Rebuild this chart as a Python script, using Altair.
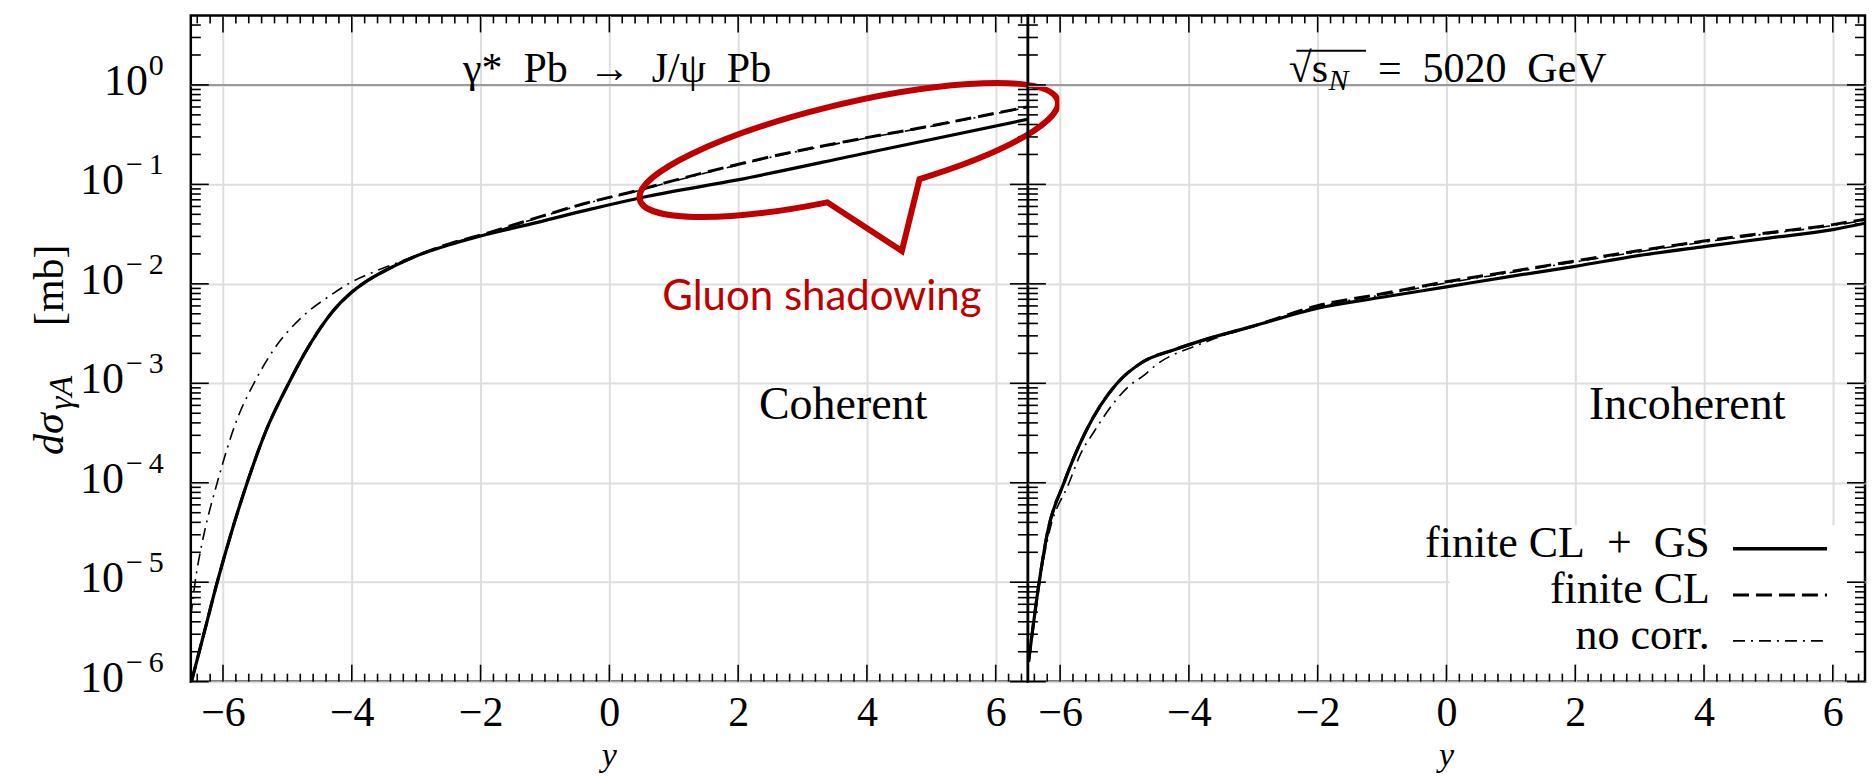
import altair as alt
import pandas as pd

# ---------------- data ----------------
# Coherent panel
coh_gs_x = [-6.49, -6.29, -6.09, -5.87, -5.625, -5.34, -4.98, -4.75, -4.54, -4.3, -4.03, -3.75, -3.4, -3.0,
            -2.5, -2.07, -1.2, -0.32, 0.6, 1.99, 3.99, 6.5]
coh_gs_y = [1.0e-6, 3.16e-6, 1.0e-5, 3.16e-5, 1.0e-4, 3.24e-4, 1.0e-3, 1.91e-3, 3.20e-3, 5.25e-3, 7.94e-3,
            1.084e-2, 1.445e-2, 1.905e-2, 2.455e-2, 2.95e-2, 4.03e-2, 5.57e-2, 7.59e-2, 0.111, 0.207, 0.452]

coh_cl_x = [-6.49, -6.29, -6.09, -5.87, -5.625, -5.34, -4.98, -4.75, -4.54, -4.3, -4.03, -3.75, -3.4, -3.0,
            -2.5, -2.0, -1.2, -0.4, 0.5, 0.86, 1.8, 2.66, 3.7, 4.72, 5.6, 6.5]
coh_cl_y = [1.0e-6, 3.16e-6, 1.0e-5, 3.16e-5, 1.0e-4, 3.24e-4, 1.0e-3, 1.91e-3, 3.20e-3, 5.25e-3, 7.94e-3,
            1.084e-2, 1.445e-2, 1.905e-2, 2.51e-2, 3.09e-2, 4.47e-2, 6.38e-2, 8.91e-2, 0.1035, 0.148, 0.1995,
            0.272, 0.359, 0.462, 0.603]

coh_nc_x = [-6.5, -6.41, -6.36, -6.29, -6.09, -5.78, -5.52, -5.21, -4.75, -4.34, -4.03, -3.62, -3.26, -3.0,
            -2.5, -2.0, -1.2, -0.4, 0.5, 0.86, 1.8, 2.66, 3.7, 4.72, 5.6, 6.5]
coh_nc_y = [4.47e-6, 1.26e-5, 1.91e-5, 3.16e-5, 1.0e-4, 4.37e-4, 1.0e-3, 2.19e-3, 4.79e-3, 7.59e-3, 1.02e-2,
            1.35e-2, 1.66e-2, 1.93e-2, 2.51e-2, 3.05e-2, 4.42e-2, 6.31e-2, 8.81e-2, 0.102, 0.146, 0.197,
            0.269, 0.355, 0.457, 0.596]

# Incoherent panel
inc_gs_x = [-6.49, -6.325, -6.196, -5.94, -5.605, -5.115, -4.73, -4.215, -3.75, -3.0, -2.0, -1.0, 0.0,
            1.0, 2.0, 3.0, 4.0, 5.0, 6.0, 6.5]
inc_gs_y = [1.58e-6, 1.0e-5, 3.16e-5, 1.0e-4, 3.24e-4, 1.0e-3, 1.62e-3, 2.19e-3, 2.75e-3, 3.76e-3, 5.69e-3,
            7.33e-3, 9.33e-3, 1.19e-2, 1.50e-2, 1.93e-2, 2.37e-2, 2.88e-2, 3.51e-2, 4.07e-2]

inc_cl_x = [-6.49, -6.325, -6.196, -5.94, -5.605, -5.115, -4.73, -4.215, -3.75, -3.0, -2.0, -1.0, 0.0,
            1.0, 2.0, 3.0, 4.0, 5.0, 6.0, 6.5]
inc_cl_y = [1.58e-6, 1.0e-5, 3.16e-5, 1.0e-4, 3.24e-4, 1.0e-3, 1.62e-3, 2.19e-3, 2.75e-3, 3.76e-3, 6.03e-3,
            7.94e-3, 1.05e-2, 1.33e-2, 1.70e-2, 2.16e-2, 2.69e-2, 3.27e-2, 3.94e-2, 4.47e-2]

inc_nc_x = [-6.49, -6.32, -6.17, -5.86, -5.682, -5.476, -5.141, -4.935, -4.678, -4.498, -4.164, -3.958,
            -3.6, -3.0, -2.0, -1.0, 0.0, 1.0, 2.0, 3.0, 4.0, 5.0, 6.0, 6.5]
inc_nc_y = [1.58e-6, 1.0e-5, 3.16e-5, 1.0e-4, 1.95e-4, 3.24e-4, 6.67e-4, 9.29e-4, 1.23e-3, 1.55e-3, 2.04e-3,
            2.29e-3, 2.82e-3, 3.72e-3, 5.89e-3, 7.76e-3, 1.02e-2, 1.30e-2, 1.66e-2, 2.11e-2, 2.63e-2,
            3.20e-2, 3.85e-2, 4.37e-2]

# axis ticks / labels
x_major = [-6, -4, -2, 0, 2, 4, 6]
x_minor = [round(-6.4 + 0.2 * i, 1) for i in range(65)]
x_minor = [t for t in x_minor if t not in x_major]
y_major = [1.0, 1e-1, 1e-2, 1e-3, 1e-4, 1e-5, 1e-6]
y_exp = ["0", "\u2212\u20091", "\u2212\u20092", "\u2212\u20093", "\u2212\u20094", "\u2212\u20095", "\u2212\u20096"]
y_minor = [k * d for d in [1e-6, 1e-5, 1e-4, 1e-3, 1e-2, 1e-1] for k in range(2, 10)] + [2.0, 3.0, 4.0]

legend_labels = ["finite CL\u2002+\u2002GS", "finite CL", "no corr."]
legend_rows = [2.17e-5, 7.44e-6, 2.57e-6]

# ---------------- layout ----------------
W, H = 838, 667
XS = alt.Scale(domain=[-6.5, 6.5], nice=False, zero=False)
YS = alt.Scale(type="log", domain=[1e-6, 5], nice=False)
SERIF = "Liberation Serif"
RED = "#C00000"

X_AXIS = alt.Axis(values=x_major, grid=True, gridColor="#dedede", gridWidth=2, ticks=False, tickSize=0,
                  domain=False, labelFont=SERIF, labelFontSize=42, labelColor="black", labelPadding=11,
                  labelOverlap=False, labelFlush=False, title=None)
Y_AXIS = alt.Axis(values=y_major, grid=True, gridColor="#dedede", gridWidth=2, ticks=False, tickSize=0,
                  domain=False, labels=False, title=None)


def xq(field="x"):
    return alt.X(f"{field}:Q", scale=XS, axis=X_AXIS)


def yq(field="v"):
    return alt.Y(f"{field}:Q", scale=YS, axis=Y_AXIS)


def curve(xs, ys, width, dash=None):
    kw = dict(color="black", strokeWidth=width, interpolate="monotone", clip=True)
    if dash is not None:
        kw["strokeDash"] = dash
    df = pd.DataFrame({"x": xs, "v": ys})
    return alt.Chart(df).mark_line(**kw).encode(x=xq(), y=yq())


def ticks():
    out = []
    for vals, L in ((x_major, 17), (x_minor, 8)):
        base = alt.Chart(pd.DataFrame({"x": vals})).mark_rule(color="black", strokeWidth=1.6)
        out.append(base.encode(x=xq(), y=alt.value(H), y2=alt.value(H - L)))
        out.append(base.encode(x=xq(), y=alt.value(0), y2=alt.value(L)))
    for vals, L in ((y_major, 18), (y_minor, 10)):
        base = alt.Chart(pd.DataFrame({"v": vals})).mark_rule(color="black", strokeWidth=1.6)
        out.append(base.encode(y=yq(), x=alt.value(0), x2=alt.value(L)))
        out.append(base.encode(y=yq(), x=alt.value(W), x2=alt.value(W - L)))
    return out


def text_at(x, v, s, **kw):
    df = pd.DataFrame({"x": [x], "v": [v], "t": [s]})
    return alt.Chart(df).mark_text(**kw).encode(x=xq(), y=yq(), text="t:N")


def unit_rule():
    return alt.Chart(pd.DataFrame({"v": [1.0]})).mark_rule(color="#9a9a9a", strokeWidth=2).encode(
        y=yq(), x=alt.value(0), x2=alt.value(W))


def x_title():
    return alt.Chart(pd.DataFrame({"x": [0.0], "t": ["y"]})).mark_text(
        fontSize=34, font=SERIF, fontStyle="italic", color="black", align="center", baseline="alphabetic"
    ).encode(x=xq(), y=alt.value(H + 84), text="t:N")


# ---------------- left panel (coherent) ----------------
dec_df = pd.DataFrame({"v": y_major, "e": y_exp})
ten_zero = alt.Chart(dec_df.iloc[:1]).mark_text(
    text="10", align="right", baseline="alphabetic", dx=-43, dy=10, fontSize=44, font=SERIF, color="black"
).encode(x=alt.value(0), y=yq())
ten_neg = alt.Chart(dec_df.iloc[1:]).mark_text(
    text="10", align="right", baseline="alphabetic", dx=-67, dy=10, fontSize=44, font=SERIF, color="black"
).encode(x=alt.value(0), y=yq())
exps = alt.Chart(dec_df).mark_text(
    align="right", baseline="alphabetic", dx=-27, dy=-10, fontSize=30, font=SERIF, color="black"
).encode(x=alt.value(0), y=yq(), text="e:N")

title_df = pd.DataFrame({"t": ["dσ", "γA", "[mb]"]})
ytitle = [
    alt.Chart(title_df.iloc[[0]]).mark_text(angle=270, align="left", baseline="alphabetic", fontSize=42,
                                             font=SERIF, fontStyle="italic", color="black")
    .encode(x=alt.value(-128), y=alt.value(440), text="t:N"),
    alt.Chart(title_df.iloc[[1]]).mark_text(angle=270, align="left", baseline="alphabetic", fontSize=34,
                                             font=SERIF, fontStyle="italic", color="black")
    .encode(x=alt.value(-119), y=alt.value(395), text="t:N"),
    alt.Chart(title_df.iloc[[2]]).mark_text(angle=270, align="left", baseline="alphabetic", fontSize=42,
                                             font=SERIF, color="black")
    .encode(x=alt.value(-128), y=alt.value(311), text="t:N"),
]

bubble_path = "M0.707,0.29 A2.15,0.465,-13.3,1,0,-0.216,0.523 L0.53,1.01 Z"
bubble = alt.Chart(pd.DataFrame({"x": [3.72], "v": [0.2213]})).mark_point(
    shape=bubble_path, size=40000, filled=False, stroke=RED, strokeWidth=6, opacity=1, strokeJoin="miter"
).encode(x=xq(), y=yq())

left = alt.layer(
    unit_rule(),
    curve(coh_gs_x, coh_gs_y, 3.2),
    curve(coh_cl_x, coh_cl_y, 3.0, dash=[16, 7]),
    curve(coh_nc_x, coh_nc_y, 1.6, dash=[12, 6, 2, 6]),
    *ticks(),
    ten_zero, ten_neg, exps, *ytitle,
    x_title(),
    text_at(0.12, 1.064, "γ*\u2002Pb\u2002→\u2002J/ψ\u2002Pb", fontSize=42, font=SERIF, color="black",
            align="center", baseline="alphabetic"),
    text_at(3.63, 4.4e-4, "Coherent", fontSize=46, font=SERIF, color="black", align="center",
            baseline="alphabetic"),
    text_at(3.30, 5.5e-3, "Gluon shadowing", fontSize=42, font="Lato", color=RED, align="center",
            baseline="alphabetic"),
    bubble,
).properties(width=W, height=H)

# ---------------- right panel (incoherent) ----------------
legend_bg = alt.Chart(pd.DataFrame({"x": [0.05], "x2": [6.25], "v": [1.51e-6], "v2": [3.75e-5]})).mark_rect(
    fill="white").encode(x=xq(), x2="x2:Q", y=yq(), y2="v2:Q")

leg_df = pd.DataFrame({"v": legend_rows, "t": legend_labels, "x": [4.09] * 3, "x2": [5.91] * 3,
                       "x1": [4.45] * 3})
leg_text = alt.Chart(leg_df).mark_text(align="right", baseline="alphabetic", dy=8, fontSize=44, font=SERIF,
                                       color="black").encode(x=xq(), y=yq(), text="t:N")
styles = [dict(strokeWidth=3.4), dict(strokeWidth=3.2, strokeDash=[16, 7]),
          dict(strokeWidth=1.6, strokeDash=[12, 6, 2, 6])]
leg_lines = [
    alt.Chart(leg_df.iloc[[i]]).mark_rule(color="black", **styles[i]).encode(
        x=xq("x1"), x2="x2:Q", y=yq())
    for i in range(3)
]
vinculum = alt.Chart(pd.DataFrame({"x": [-2.33], "x2": [-1.25], "v": [2.2]})).mark_rule(
    color="black", strokeWidth=2).encode(x=xq(), x2="x2:Q", y=yq())

right = alt.layer(
    legend_bg,
    unit_rule(),
    curve(inc_gs_x, inc_gs_y, 3.2),
    curve(inc_cl_x, inc_cl_y, 3.0, dash=[16, 7]),
    curve(inc_nc_x, inc_nc_y, 1.6, dash=[12, 6, 2, 6]),
    *ticks(),
    x_title(),
    text_at(-1.837, 1.064, "√s", fontSize=42, font=SERIF, color="black", align="right",
            baseline="alphabetic"),
    text_at(-1.83, 0.885, "N", fontSize=30, font=SERIF, fontStyle="italic", color="black", align="left",
            baseline="alphabetic"),
    vinculum,
    text_at(-1.065, 1.064, "=\u20025020\u2002GeV", fontSize=42, font=SERIF, color="black", align="left",
            baseline="alphabetic"),
    text_at(3.74, 4.4e-4, "Incoherent", fontSize=46, font=SERIF, color="black", align="center",
            baseline="alphabetic"),
    leg_text,
    *leg_lines,
).properties(width=W, height=H)

chart = alt.hconcat(left, right, spacing=0, bounds="flush").configure_view(
    stroke="black", strokeWidth=2.5
).properties(padding={"left": 19, "top": 4, "right": 0, "bottom": 0}, background="white")

chart.save("out.html", embed_options={"renderer": "svg", "actions": False})
